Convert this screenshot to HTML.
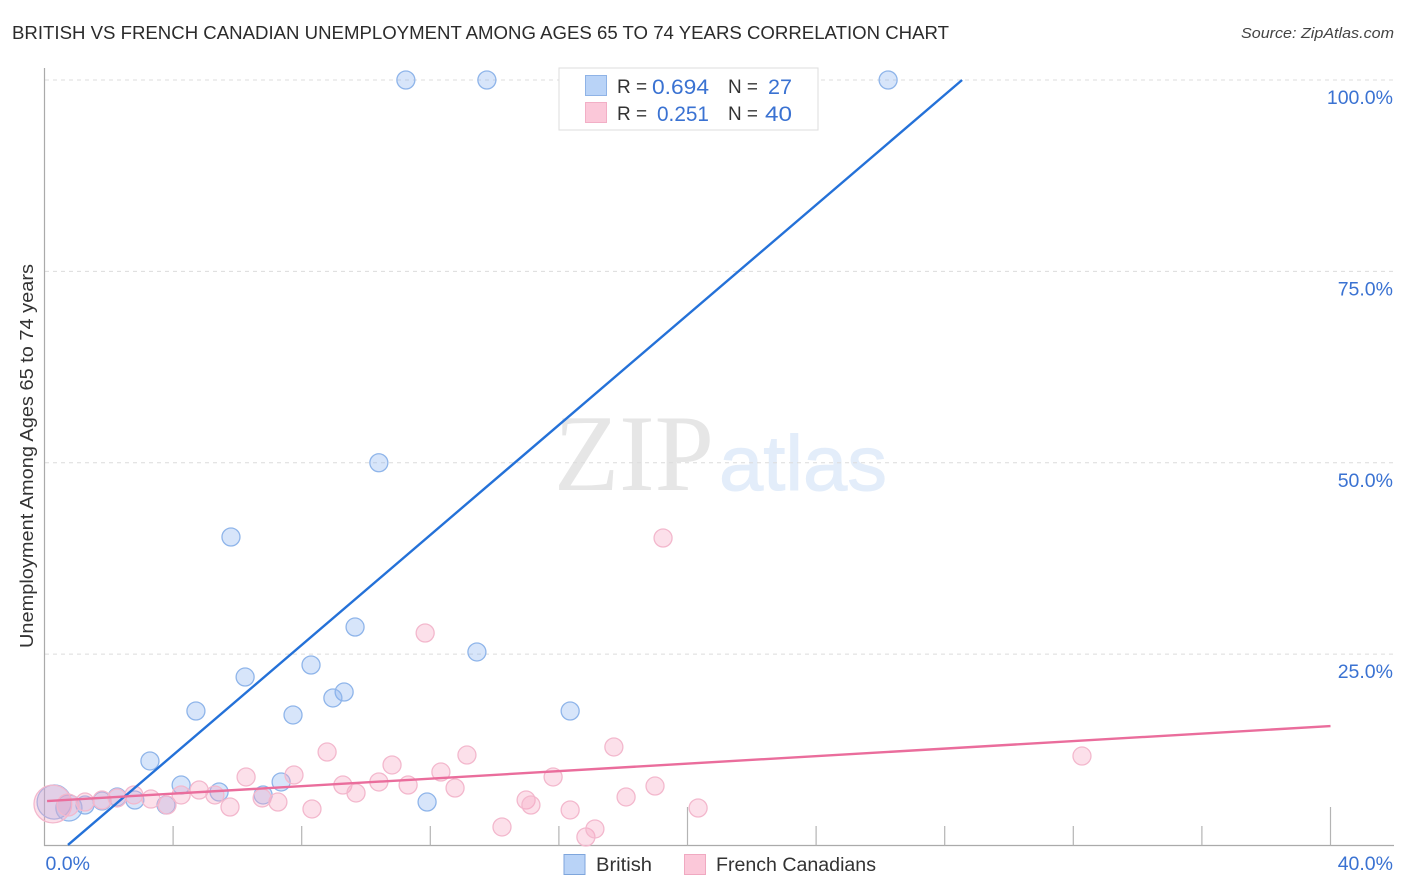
<!DOCTYPE html>
<html lang="en">
<head>
<meta charset="utf-8">
<title>British vs French Canadian Unemployment Correlation Chart</title>
<style>
html,body{margin:0;padding:0;background:#fff;}
svg{display:block;font-family:"Liberation Sans",sans-serif;}
</style>
</head>
<body>
<svg id="chart" xmlns="http://www.w3.org/2000/svg" width="1406" height="892" viewBox="0 0 1406 892">
  <rect x="0" y="0" width="1406" height="892" fill="#ffffff"/>
  <text x="12" y="39" font-size="18.5" fill="#2b2b2b" textLength="937" lengthAdjust="spacingAndGlyphs">BRITISH VS FRENCH CANADIAN UNEMPLOYMENT AMONG AGES 65 TO 74 YEARS CORRELATION CHART</text>
  <text x="1241" y="38" font-size="15" font-style="italic" fill="#444" textLength="153" lengthAdjust="spacingAndGlyphs">Source: ZipAtlas.com</text>
  <g>
    <text x="554" y="490" font-size="109" font-family="'Liberation Serif',serif" fill="#e6e6e6" textLength="160" lengthAdjust="spacingAndGlyphs">ZIP</text>
    <text x="719" y="490" font-size="78" fill="#e3edfa" stroke="#e3edfa" stroke-width="1" textLength="168" lengthAdjust="spacingAndGlyphs">atlas</text>
  </g>
  <g id="grid"></g>
  <g id="axes"></g>
  <g id="pointsBritish"></g>
  <g id="pointsFrench"></g>
  <g id="trends"></g>
  <text transform="translate(33,648) rotate(-90)" font-size="18.5" fill="#333" textLength="384" lengthAdjust="spacingAndGlyphs">Unemployment Among Ages 65 to 74 years</text>
  <g id="labels"></g>

  <g>
    <rect x="559" y="68" width="259" height="62" fill="#ffffff" stroke="#dddddd" stroke-width="1"/>
    <rect x="585.5" y="75.5" width="21" height="20" fill="#b9d3f7" stroke="#8fb3e6"/>
    <rect x="585.5" y="102.5" width="21" height="20" fill="#fbc8d9" stroke="#f2afc6"/>
    <text x="617" y="93" font-size="19" fill="#333">R =</text>
    <text x="652" y="94" font-size="21" fill="#3a72d2" textLength="57" lengthAdjust="spacingAndGlyphs">0.694</text>
    <text x="728" y="93" font-size="19" fill="#333" textLength="30" lengthAdjust="spacingAndGlyphs">N =</text>
    <text x="768" y="94" font-size="21" fill="#3a72d2" textLength="24" lengthAdjust="spacingAndGlyphs">27</text>
    <text x="617" y="120" font-size="19" fill="#333">R =</text>
    <text x="657" y="121" font-size="21" fill="#3a72d2" textLength="52" lengthAdjust="spacingAndGlyphs">0.251</text>
    <text x="728" y="120" font-size="19" fill="#333" textLength="30" lengthAdjust="spacingAndGlyphs">N =</text>
    <text x="765" y="121" font-size="21" fill="#3a72d2" textLength="27" lengthAdjust="spacingAndGlyphs">40</text>
  </g>

  <g>
    <rect x="564" y="854.5" width="21" height="20" fill="#b9d3f7" stroke="#7fa6dc"/>
    <text x="596" y="871" font-size="19" fill="#333" textLength="56" lengthAdjust="spacingAndGlyphs">British</text>
    <rect x="684.5" y="854.5" width="21" height="20" fill="#fbc8d9" stroke="#f0a9c1"/>
    <text x="716" y="871" font-size="19" fill="#333" textLength="160" lengthAdjust="spacingAndGlyphs">French Canadians</text>
  </g>
</svg>

<script>
// ---- chart data (x and y are percentages) ----
const britishX = [11.24,13.76,26.24,10.40,5.80,9.66,13.45,8.29,6.24,9.32,8.97,4.71,7.73,16.35,3.28,4.25,5.43,6.80,7.36,11.90,0.30,0.76,1.26,1.79,2.26,2.81,3.78];
const britishY = [100,100,100,50,40.3,28.54,25.28,23.58,22.01,20.05,19.27,17.57,17.05,17.57,11.04,7.90,6.99,6.60,8.30,5.68,5.68,4.90,5.29,5.81,6.34,5.94,5.29];
const britishWeight = [1,1,1,1,1,1,1,1,1,1,1,1,1,1,1,1,1,1,1,1,3.6,2.1,1,1,1,1,1];

const frenchX = [0.26,0.73,1.26,1.79,2.26,2.78,3.31,3.81,4.25,4.81,5.30,5.77,6.27,6.77,7.26,7.76,8.32,8.79,9.28,9.69,10.40,10.81,11.31,12.33,12.77,13.14,14.23,14.98,15.13,15.82,16.35,16.84,17.12,17.71,18.09,18.99,20.33,11.84,19.24,32.27];
const frenchY = [5.42,5.29,5.68,5.94,6.21,6.60,6.07,5.29,6.60,7.25,6.60,5.03,8.95,6.21,5.68,9.21,4.77,12.21,7.90,6.86,8.30,10.52,7.90,9.60,7.51,11.82,2.42,5.94,5.29,8.95,4.64,1.11,2.16,12.87,6.34,7.77,4.90,27.76,40.17,11.69];
const frenchWeight = [4.4,1.5,1,1,1,1,1,1,1,1,1,1,1,1,1,1,1,1,1,1,1,1,1,1,1,1,1,1,1,1,1,1,1,1,1,1,1,1,1,1];

const britishTrendX = [0.73,28.54];
const britishTrendY = [0.07,100];
const frenchTrendX = [0.08,40];
const frenchTrendY = [5.81,15.6];

const yTickValues = [25,50,75,100];
const yTickLabels = ["25.0%","50.0%","75.0%","100.0%"];
const xTickValues = [4,8,12,16,20,24,28,32,36,40];
const xMajorTicks = [20,40];
const xEndValues = [0,40];
const xEndLabels = ["0.0%","40.0%"];

// ---- axis functions ----
function xScale(v){ return 44.5 + v * 32.15; }
function yScale(v){ return 845.5 - v * 7.655; }
function rScale(w){ return 9 * Math.sqrt(w); }

const NS = "http://www.w3.org/2000/svg";
function make(tag, parentId, attrs){
  const el = document.createElementNS(NS, tag);
  for (const k in attrs) el.setAttribute(k, attrs[k]);
  document.getElementById(parentId).appendChild(el);
  return el;
}

// gridlines
yTickValues.forEach(function(v){
  const g = make("line", "grid", {x1:45, x2:1393, y1:yScale(v), y2:yScale(v), stroke:"#dcdcdc", "stroke-width":1, "stroke-dasharray":"4 4"});
  
  
});

// axes
const yAxis = make("line", "axes", {x1:44.5, x2:44.5, y1:68, y2:846, stroke:"#aaaaaa", "stroke-width":1.2});


const xAxis = make("line", "axes", {x1:44, x2:1394, y1:845.5, y2:845.5, stroke:"#aaaaaa", "stroke-width":1.2});


xTickValues.forEach(function(v){
  const isMajor = xMajorTicks.indexOf(v) >= 0;
  const t = make("line", "axes", {x1:xScale(v), x2:xScale(v), y1:isMajor ? 807 : 826, y2:845.5, stroke:"#b4b4b4", "stroke-width":1.2});
  
  
});

// tick labels
yTickValues.forEach(function(v, i){
  const t = make("text", "labels", {x:1393, y:yScale(v) + 24, "text-anchor":"end", "font-size":19.5, fill:"#3a72d2"});
  t.textContent = yTickLabels[i];
  
  
});
xEndValues.forEach(function(v, i){
  const isFirst = i === 0;
  const t = make("text", "labels", {x:isFirst ? xScale(v) + 1 : 1393, y:870, "text-anchor":isFirst ? "start" : "end", "font-size":19.5, fill:"#3a72d2"});
  t.textContent = xEndLabels[i];
  
  
});

// points
britishX.forEach(function(v, i){
  const c = make("circle", "pointsBritish", {cx:xScale(v), cy:yScale(britishY[i]), r:rScale(britishWeight[i]), fill:"rgba(130,175,240,0.32)", stroke:"#8fb5ea", "stroke-width":1.3});
  
  
});
frenchX.forEach(function(v, i){
  const c = make("circle", "pointsFrench", {cx:xScale(v), cy:yScale(frenchY[i]), r:rScale(frenchWeight[i]), fill:"rgba(246,170,196,0.36)", stroke:"#f3b8cd", "stroke-width":1.3});
  
  
});

// trend lines
const blueTrend = make("line", "trends", {x1:xScale(britishTrendX[0]), y1:yScale(britishTrendY[0]), x2:xScale(britishTrendX[1]), y2:yScale(britishTrendY[1]), stroke:"#2471d8", "stroke-width":2.4});


const pinkTrend = make("line", "trends", {x1:xScale(frenchTrendX[0]), y1:yScale(frenchTrendY[0]), x2:xScale(frenchTrendX[1]), y2:yScale(frenchTrendY[1]), stroke:"#ea6d9c", "stroke-width":2.4});


</script>
</body>
</html>
